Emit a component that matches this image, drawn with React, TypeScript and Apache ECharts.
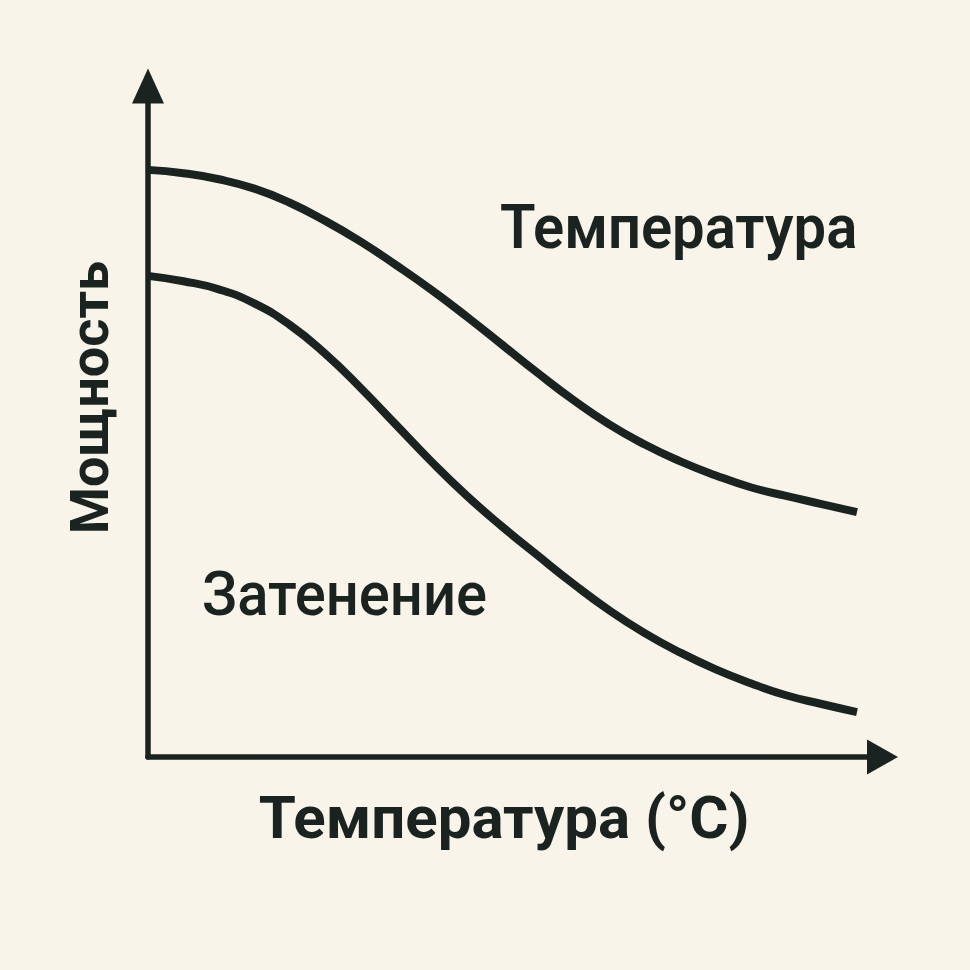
import React, { useEffect, useRef } from "react";
import * as echarts from "echarts";

const xValues = [0, 5, 10, 15, 20, 25, 30, 35, 40, 45, 50, 55, 60, 65, 70, 75, 80, 85, 90, 95, 100];
const temperatureCurve = [87.5, 87.0, 86.1, 84.7, 82.6, 79.9, 76.8, 73.3, 69.6, 65.6, 61.4, 57.2, 53.2, 49.6, 46.6, 44.1, 42.0, 40.2, 38.9, 37.7, 36.5];
const shadingCurve = [71.7, 70.9, 69.7, 67.6, 64.4, 60.1, 55.0, 49.5, 44.0, 38.9, 34.3, 30.0, 25.8, 21.9, 18.5, 15.6, 13.1, 11.0, 9.2, 7.9, 6.7];
const curveLabels = ["Температура", "Затенение"];
const xAxisTitle = "Температура (°C)";
const yAxisTitle = "Мощность";

const INK = "#1b2320";
const BG = "#f9f4ea";

export default function App() {
  const ref = useRef<HTMLDivElement>(null);
  useEffect(() => {
    if (!ref.current) return;
    const chart = echarts.init(ref.current, null, { renderer: "svg" });
    const mk = (vals: number[]) => xValues.map((x, i) => [x, vals[i]]);
    chart.setOption({
      animation: false,
      backgroundColor: BG,
      grid: { left: 148, right: 87.5, top: 86, bottom: 213, containLabel: false },
      xAxis: {
        type: "value",
        min: 0,
        max: 103.6,
        name: xAxisTitle,
        nameLocation: "middle",
        nameGap: 30,
        nameTextStyle: {
          fontFamily: "Roboto",
          fontWeight: "bold",
          fontSize: 60,
          color: INK,
          padding: [0, 22, 0, 0],
          verticalAlign: "top",
        },
        axisLine: {
          show: true,
          symbol: ["none", "triangle"],
          symbolSize: [35, 31],
          lineStyle: { color: INK, width: 5.5 },
        },
        axisTick: { show: false },
        axisLabel: { show: false },
        splitLine: { show: false },
      },
      yAxis: {
        type: "value",
        min: 0,
        max: 100,
        name: yAxisTitle,
        nameLocation: "middle",
        nameGap: 32,
        nameRotate: 90,
        nameTextStyle: {
          fontFamily: "Roboto",
          fontWeight: "bold",
          fontSize: 54,
          color: INK,
          padding: [0, 0, 0, 48],
        },
        axisLine: {
          show: true,
          symbol: ["none", "triangle"],
          symbolSize: [32, 35],
          lineStyle: { color: INK, width: 5.5 },
        },
        axisTick: { show: false },
        axisLabel: { show: false },
        splitLine: { show: false },
      },
      graphic: [
        {
          type: "text",
          x: 500,
          y: 196,
          scaleX: 0.935,
          style: {
            text: curveLabels[0],
            fontFamily: "Roboto",
            fontWeight: 600,
            fontSize: 62,
            fill: INK,
          },
        },
        {
          type: "text",
          x: 202,
          y: 563,
          scaleX: 0.935,
          style: {
            text: curveLabels[1],
            fontFamily: "Roboto",
            fontWeight: 500,
            fontSize: 62,
            fill: INK,
          },
        },
      ],
      series: [
        {
          name: curveLabels[0],
          type: "line",
          data: mk(temperatureCurve),
          smooth: 0.5,
          showSymbol: false,
          lineStyle: { color: INK, width: 8, cap: "butt" },
          z: 3,
        },
        {
          name: curveLabels[1],
          type: "line",
          data: mk(shadingCurve),
          smooth: 0.5,
          showSymbol: false,
          lineStyle: { color: INK, width: 8, cap: "butt" },
          z: 3,
        },
      ],
    });
    return () => chart.dispose();
  }, []);
  return <div ref={ref} style={{ width: 970, height: 970, position: "absolute", left: 0, top: 0 }} />;
}
